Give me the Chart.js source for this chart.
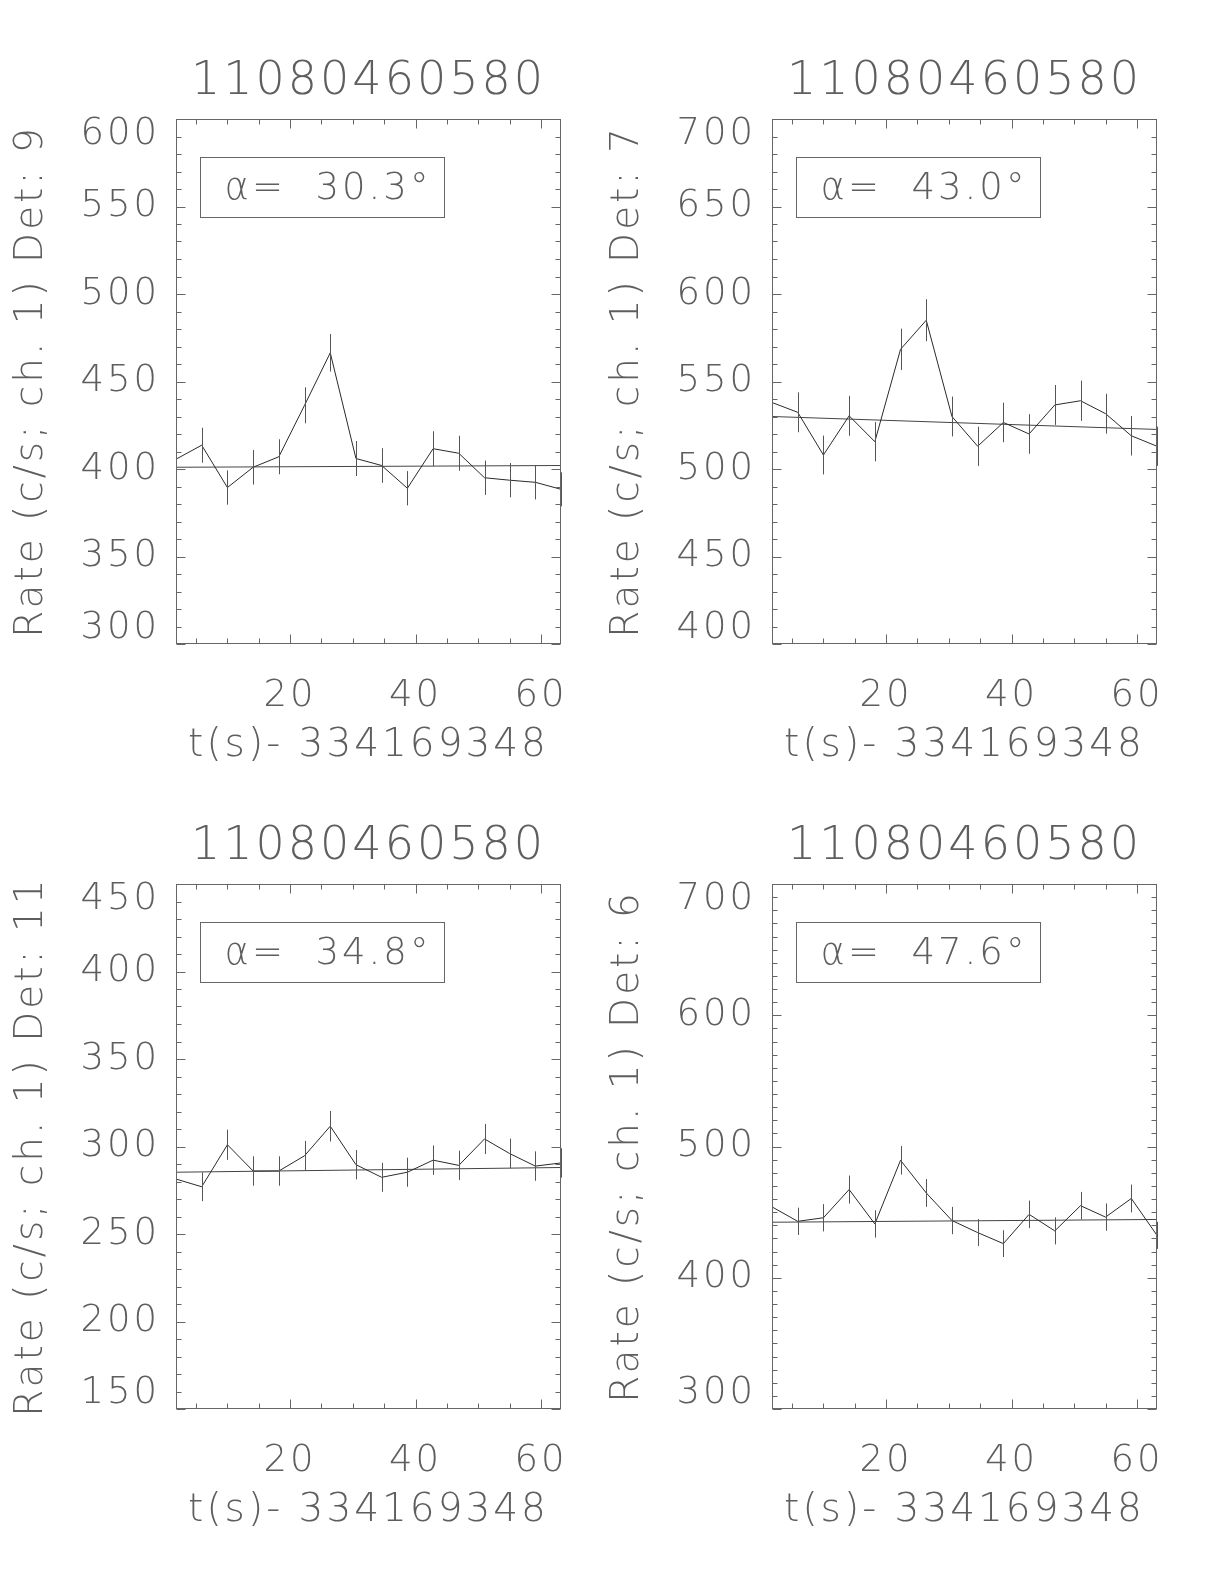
<!DOCTYPE html>
<html>
<head>
<meta charset="utf-8">
<script src="https://cdn.jsdelivr.net/npm/chart.js@4.4.1/dist/chart.umd.min.js"></script>
<style>
  html, body { margin: 0; padding: 0; background: #fff; }
  #page { position: relative; width: 1224px; height: 1584px; overflow: hidden; background: #fff; }
  #page canvas { position: absolute; }
</style>
</head>
<body>
<div id="page">
  <canvas id="det9" width="612" height="765" style="left:0px;top:0px"></canvas>
  <canvas id="det7" width="612" height="765" style="left:596px;top:0px"></canvas>
  <canvas id="det11" width="612" height="765" style="left:0px;top:765px"></canvas>
  <canvas id="det6" width="612" height="765" style="left:596px;top:765px"></canvas>
</div>
<script>
const runId = '11080460580';
const timeOffset = '334169348';

// bin times, s after offset (same bins in every detector)
const tValues = [1.8, 5.9, 10.0, 14.1, 18.2, 22.3, 26.4, 30.5, 34.6, 38.7, 42.8, 46.9, 51.0, 55.0, 59.1, 63.2];
const xTickValues = [20, 40, 60];

const rateDet9 = [405.6, 413.6, 389.4, 401, 407, 436.4, 466.4, 406, 402, 389, 411.6, 409, 395, 393.6, 392.4, 388.4];
const errDet9 = [10, 10, 9.8, 9.9, 10, 10.3, 10.7, 10, 9.9, 9.8, 10, 10, 9.8, 9.8, 9.8, 9.7];
const fitDet9 = [401, 402];
const yTicksDet9 = [300, 350, 400, 450, 500, 550, 600];

const rateDet7 = [538, 532.4, 508, 530.4, 515.6, 568.4, 585, 530, 513, 526.6, 520, 536.6, 539, 531.6, 519, 513];
const errDet7 = [11.5, 11.4, 11.1, 11.4, 11.2, 11.8, 12, 11.4, 11.2, 11.3, 11.3, 11.4, 11.5, 11.4, 11.3, 11.2];
const fitDet7 = [530, 522.6];
const yTicksDet7 = [400, 450, 500, 550, 600, 650, 700];

const rateDet11 = [281.4, 277, 301, 286, 286, 294.7, 311.6, 289.6, 282.4, 285.3, 292.2, 289.2, 304.3, 296, 288.8, 290.6];
const errDet11 = [8.3, 8.2, 8.6, 8.4, 8.4, 8.5, 8.7, 8.4, 8.3, 8.3, 8.4, 8.4, 8.6, 8.5, 8.4, 8.4];
const fitDet11 = [285.3, 288];
const yTicksDet11 = [150, 200, 250, 300, 350, 400, 450];

const rateDet6 = [454, 443, 445.7, 467.2, 441, 489.5, 464.6, 443.6, 434.4, 426, 448.3, 435.7, 454.9, 446.2, 460.4, 432.3];
const errDet6 = [10.5, 10.4, 10.4, 10.7, 10.4, 10.9, 10.6, 10.4, 10.3, 10.2, 10.5, 10.3, 10.5, 10.4, 10.6, 10.3];
const fitDet6 = [442.3, 444.4];
const yTicksDet6 = [300, 400, 500, 600, 700];

const panels = [
  { id: 'det9', det: 9, rate: rateDet9, err: errDet9, fit: fitDet9, yTicks: yTicksDet9, alpha: '30.3' },
  { id: 'det7', det: 7, rate: rateDet7, err: errDet7, fit: fitDet7, yTicks: yTicksDet7, alpha: '43.0' },
  { id: 'det11', det: 11, rate: rateDet11, err: errDet11, fit: fitDet11, yTicks: yTicksDet11, alpha: '34.8' },
  { id: 'det6', det: 6, rate: rateDet6, err: errDet6, fit: fitDet6, yTicks: yTicksDet6, alpha: '47.6' }
];

const FONT = "'DejaVu Sans', sans-serif";
const TEXT = '#5e5e5e';
Chart.defaults.font.family = FONT;
Chart.defaults.font.weight = '200';
Chart.defaults.color = TEXT;

function steps(min, max, step) {
  const out = [];
  for (let v = min; v <= max + 1e-9; v += step) out.push(v);
  return out;
}

// IDL-ish frame: box, inward ticks on all sides, error bars, alpha label
const idlFrame = {
  id: 'idlFrame',
  beforeDraw(chart) {
    chart.ctx.letterSpacing = '3px';
  },
  afterDatasetsDraw(chart, args, opts) {
    const { ctx, chartArea: a, scales: { x, y } } = chart;
    const L = Math.round(a.left) + 0.5, R = Math.round(a.right) - 0.5;
    const T = Math.round(a.top) + 0.5, B = Math.round(a.bottom) - 0.5;
    ctx.save();
    ctx.lineWidth = 1;

    // error bars
    ctx.strokeStyle = '#555';
    ctx.beginPath();
    opts.rate.forEach((r, i) => {
      const px = Math.round(x.getPixelForValue(tValues[i])) + 0.5;
      ctx.moveTo(px, y.getPixelForValue(r - opts.err[i]));
      ctx.lineTo(px, y.getPixelForValue(r + opts.err[i]));
    });
    ctx.stroke();

    // box
    ctx.strokeStyle = '#666';
    ctx.strokeRect(L, T, R - L, B - T);

    // ticks
    const yMajor = opts.yTicks;
    const yMinor = steps(yMajor[0], yMajor[yMajor.length - 1], 10);
    const xMinor = steps(5, 60, 5);
    ctx.beginPath();
    yMinor.forEach(v => {
      const len = yMajor.includes(v) ? 9 : 5;
      const py = Math.round(y.getPixelForValue(v)) + 0.5;
      ctx.moveTo(L, py); ctx.lineTo(L + len, py);
      ctx.moveTo(R, py); ctx.lineTo(R - len, py);
    });
    xMinor.forEach(v => {
      const len = xTickValues.includes(v) ? 9 : 5;
      const px = Math.round(x.getPixelForValue(v)) + 0.5;
      ctx.moveTo(px, B); ctx.lineTo(px, B - len);
      ctx.moveTo(px, T); ctx.lineTo(px, T + len);
    });
    ctx.stroke();

    // alpha label
    const bx = a.left + 24, by = a.top + 38, bw = 244, bh = 60;
    ctx.strokeStyle = '#666';
    ctx.strokeRect(Math.round(bx) + 0.5, Math.round(by) + 0.5, bw, bh);
    ctx.fillStyle = TEXT;
    ctx.textBaseline = 'middle';
    ctx.textAlign = 'center';
    ctx.font = '200 37px ' + FONT;
    ctx.fillText('α=  ' + opts.alpha + '°', bx + bw / 2 + 6, by + bh / 2 + 2);
    ctx.restore();
  }
};

panels.forEach(p => {
  const yMin = p.yTicks[0], yMax = p.yTicks[p.yTicks.length - 1];
  new Chart(document.getElementById(p.id), {
    type: 'line',
    data: {
      datasets: [
        {
          data: tValues.map((t, i) => ({ x: t, y: p.rate[i] })),
          borderColor: '#2a2a2a',
          borderWidth: 1,
          pointRadius: 0,
          tension: 0
        },
        {
          data: [{ x: tValues[0], y: p.fit[0] }, { x: tValues[tValues.length - 1], y: p.fit[1] }],
          borderColor: '#444',
          borderWidth: 1,
          pointRadius: 0,
          tension: 0
        }
      ]
    },
    options: {
      responsive: false,
      animation: false,
      events: [],
      layout: { padding: { left: 0, right: 51, top: 0, bottom: 0 } },
      scales: {
        x: {
          type: 'linear',
          min: tValues[0],
          max: tValues[tValues.length - 1],
          afterBuildTicks: s => { s.ticks = xTickValues.map(v => ({ value: v })); },
          afterFit: s => { s.height = 121; },
          grid: { display: false, drawTicks: false },
          border: { display: false },
          ticks: { font: { size: 37 }, padding: 30, autoSkip: false, maxRotation: 0 },
          title: {
            display: true,
            text: 't(s)- ' + timeOffset,
            font: { size: 39, lineHeight: 1 },
            padding: { top: 0, bottom: 0 }
          }
        },
        y: {
          type: 'linear',
          min: yMin,
          max: yMax,
          afterBuildTicks: s => { s.ticks = p.yTicks.map(v => ({ value: v })); },
          afterFit: s => { s.width = 176; },
          grid: { display: false, drawTicks: false },
          border: { display: false },
          ticks: {
            font: { size: 37, lineHeight: 0.85 },
            padding: 16,
            autoSkip: false,
            callback: v => v === yMax ? ['', String(v)] : v === yMin ? [String(v), ''] : String(v)
          },
          title: {
            display: true,
            text: 'Rate (c/s; ch. 1) Det: ' + p.det,
            font: { size: 39, lineHeight: 1 },
            padding: { top: 12, bottom: 0 }
          }
        }
      },
      plugins: {
        legend: { display: false },
        tooltip: { enabled: false },
        title: {
          display: true,
          text: runId,
          fullSize: false,
          color: TEXT,
          font: { size: 46, weight: '200', lineHeight: 1 },
          padding: { top: 59, bottom: 14 }
        },
        idlFrame: { rate: p.rate, err: p.err, yTicks: p.yTicks, alpha: p.alpha }
      }
    },
    plugins: [idlFrame]
  });
});
</script>
</body>
</html>
